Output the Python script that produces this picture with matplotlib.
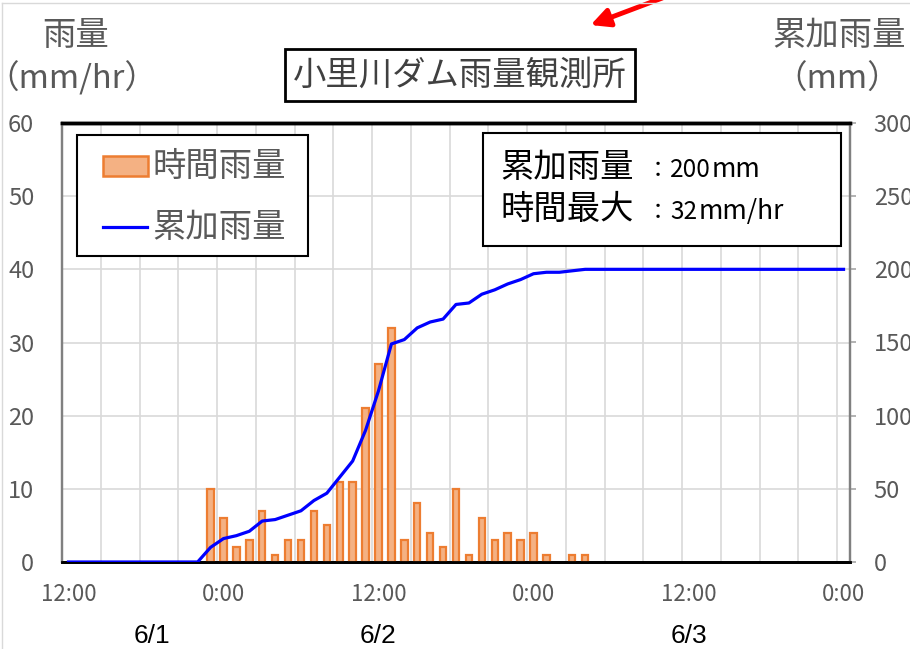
import matplotlib
matplotlib.use('Agg')
import matplotlib.pyplot as plt
import matplotlib.transforms as mtransforms
import numpy as np
from matplotlib.patches import Rectangle, FancyArrowPatch
from matplotlib.lines import Line2D

plt.rcParams['font.family'] = ['Noto Sans CJK JP', 'DejaVu Sans']

# hourly categories: 12:00 6/1 ... 0:00 6/4
hours = list(range(61))
hourly_rain = [0, 0, 0, 0, 0, 0, 0, 0, 0, 0, 0,
               10, 6, 2, 3, 7, 1, 3, 3, 7, 5, 11, 11, 21, 27, 32,
               3, 8, 4, 2, 10, 1, 6, 3, 4, 3, 4, 1, 0, 1, 1,
               0, 0, 0, 0, 0, 0, 0, 0, 0, 0, 0, 0, 0, 0, 0, 0, 0, 0, 0, 0]
cum_rain = [0, 0, 0, 0, 0, 0, 0, 0, 0, 0, 0,
            10, 16, 18, 21, 28, 29, 32, 35, 42, 47, 58, 69, 90, 117, 149,
            152, 160, 164, 166, 176, 177, 183, 186, 190, 193, 197, 198, 198, 199, 200,
            200, 200, 200, 200, 200, 200, 200, 200, 200, 200, 200, 200, 200, 200, 200,
            200, 200, 200, 200, 200]
tick_pos = [0, 12, 24, 36, 48, 60]
tick_labels = ['12:00', '0:00', '12:00', '0:00', '12:00', '0:00']
date_pos = [6.5, 24, 48]
date_labels = ['6/1', '6/2', '6/3']

W, H = 910, 649
fig = plt.figure(figsize=(W / 100, H / 100), dpi=100)

def fx(px):
    return px / W

def fy(py):
    return 1 - py / H

ax = fig.add_axes([fx(62), fy(562), fx(850) - fx(62), fy(123) - fy(562)])
ax2 = ax.twinx()

gray = '#595959'
bar_fc, bar_ec, line_c = '#F4B183', '#ED7D31', '#0000FF'

# bars (skip zero hours)
xs = [h for h, v in zip(hours, hourly_rain) if v > 0]
vs = [v for v in hourly_rain if v > 0]
ax.bar(xs, vs, width=0.5, color=bar_fc, edgecolor=bar_ec, linewidth=1.6, zorder=3)

ax2.plot(hours, cum_rain, color=line_c, lw=2.3, zorder=3)

ax.set_xlim(-0.5, 60.5)
ax.set_ylim(0, 60)
ax2.set_ylim(0, 300)
ax.set_yticks(np.arange(0, 61, 10))
ax2.set_yticks(np.arange(0, 301, 50))
ax.set_xticks(tick_pos)
ax.set_xticklabels(tick_labels)
ax.set_xticks(np.arange(-0.5, 61, 3), minor=True)

ax.set_axisbelow(True)
ax.grid(axis='y', color='#D9D9D9', lw=1.2)
ax.grid(axis='x', which='minor', color='#D9D9D9', lw=1.2)
ax.grid(axis='x', which='major', visible=False)

ax.tick_params(axis='x', which='both', length=0, pad=15, labelsize=16, labelcolor=gray)
ax.tick_params(axis='y', length=0, pad=20, labelsize=17, labelcolor=gray)
ax2.tick_params(axis='y', length=4, color='#A6A6A6', width=1.2, pad=13, labelsize=17, labelcolor=gray)

for a in (ax, ax2):
    a.spines['top'].set_color('black')
    a.spines['top'].set_linewidth(2.5)
    a.spines['bottom'].set_color('black')
    a.spines['bottom'].set_linewidth(2)
    a.spines['left'].set_color('#808080')
    a.spines['left'].set_linewidth(1.6)
    a.spines['right'].set_color('#808080')
    a.spines['right'].set_linewidth(1.6)

# date labels under the axis
date_tr = mtransforms.blended_transform_factory(ax.transData, fig.transFigure)
for p, lab in zip(date_pos, date_labels):
    ax.text(p, fy(636), lab, transform=date_tr, ha='center', va='center',
            fontsize=19, color='black', family='Liberation Sans')

# axis titles
fig.text(fx(76), fy(36), '雨量', ha='center', va='center', fontsize=24, color=gray)
fig.text(fx(72), fy(78), '（mm/hr）', ha='center', va='center', fontsize=23.5, color=gray)
fig.text(fx(839), fy(36), '累加雨量', ha='center', va='center', fontsize=24, color=gray)
fig.text(fx(837), fy(80), '（mm）', ha='center', va='center', fontsize=23.5, color=gray)

# title box
fig.text(fx(460), fy(75), '小里川ダム雨量観測所', ha='center', va='center', fontsize=24,
         color='#404040',
         bbox=dict(boxstyle='square,pad=0.25', fc='white', ec='black', lw=2))

# summary box
fig.add_artist(Rectangle((fx(483), fy(246)), fx(841) - fx(483), fy(133) - fy(246),
                         transform=fig.transFigure, fc='white', ec='black', lw=1.5, zorder=4))
for base, lab, num, unit, unit_x in [(177, '累加雨量', '200', 'mm', 712),
                                     (219, '時間最大', '32', 'mm/hr', 699)]:
    fig.text(fx(500), fy(base), lab, ha='left', va='baseline', fontsize=24, color='black', zorder=5)
    fig.text(fx(647), fy(base), '：', ha='left', va='baseline', fontsize=16, color='black', zorder=5)
    fig.text(fx(670), fy(base), num, ha='left', va='baseline', fontsize=17.5, color='black', zorder=5)
    fig.text(fx(unit_x), fy(base), unit, ha='left', va='baseline', fontsize=19, color='black', zorder=5)

# legend box (drawn by hand to match the spreadsheet layout)
fig.add_artist(Rectangle((fx(77), fy(256)), fx(308) - fx(77), fy(135) - fy(256),
                         transform=fig.transFigure, fc='white', ec='black', lw=1.5, zorder=4))
fig.add_artist(Rectangle((fx(103), fy(176)), fx(148) - fx(103), fy(156) - fy(176),
                         transform=fig.transFigure, fc=bar_fc, ec=bar_ec, lw=1.8, zorder=5))
fig.add_artist(Line2D([fx(103), fx(147)], [fy(227), fy(227)], transform=fig.transFigure,
                      color=line_c, lw=2.3, zorder=5))
fig.text(fx(152), fy(166), '時間雨量', ha='left', va='center', fontsize=24, color=gray, zorder=5)
fig.text(fx(152), fy(227), '累加雨量', ha='left', va='center', fontsize=24, color=gray, zorder=5)

# red arrow from the screenshot
fig.add_artist(FancyArrowPatch((fx(665), fy(-3)), (fx(588), fy(26)), transform=fig.transFigure,
                               arrowstyle='-|>', mutation_scale=28, color='#FF0000', lw=3.5))

# faint chart border
fig.add_artist(Line2D([fx(2), fx(2)], [fy(3), fy(649)], transform=fig.transFigure, color='#D9D9D9', lw=1))
fig.add_artist(Line2D([fx(2), fx(910)], [fy(3), fy(3)], transform=fig.transFigure, color='#D9D9D9', lw=1))

fig.savefig('out.png', dpi=100)
